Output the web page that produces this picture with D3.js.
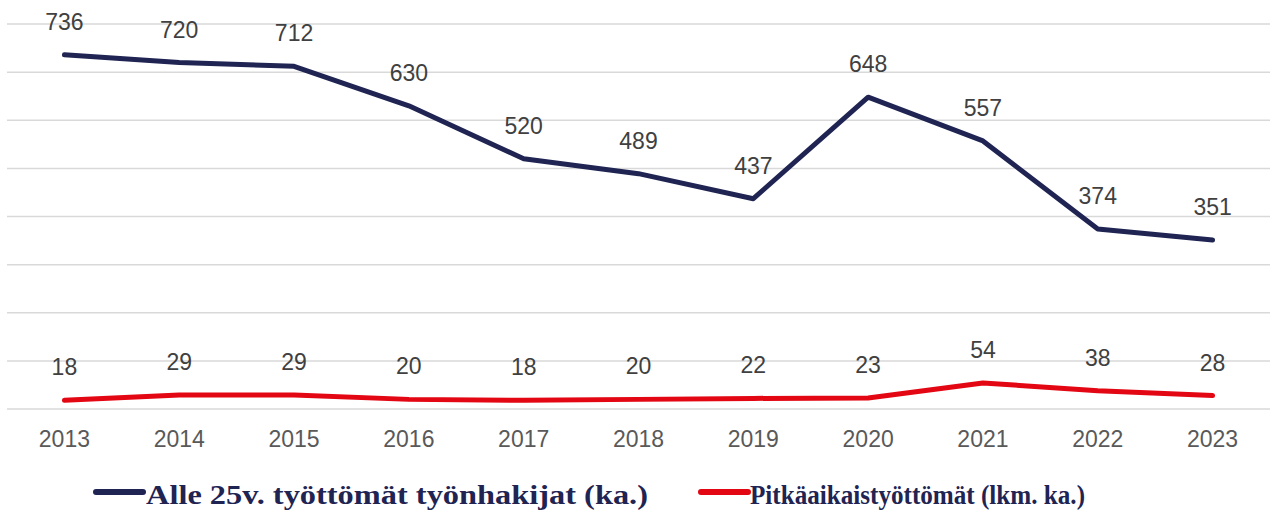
<!DOCTYPE html>
<meta charset="utf-8">
<style>
body { margin: 0; background: #fff; }
</style>
<svg width="1274" height="515"></svg>
<script src="https://cdn.jsdelivr.net/npm/d3@7"></script>
<script>
var years = ['2013','2014','2015','2016','2017','2018','2019','2020','2021','2022','2023']
var youth = [736, 720, 712, 630, 520, 489, 437, 648, 557, 374, 351]
var longTerm = [18, 29, 29, 20, 18, 20, 22, 23, 54, 38, 28]
var yTicks = [0, 100, 200, 300, 400, 500, 600, 700, 800]
var seriesNames = ['Alle 25v. työttömät työnhakijat (ka.)', 'Pitkäaikaistyöttömät (lkm. ka.)']

var navy = '#1f2452'
var red = '#e30613'

var svg = d3.select('svg')

var x = d3.scalePoint().domain(years).range([7, 1270]).padding(0.5)
var y = d3.scaleLinear().domain([0, 800]).range([409, 24])

// gridlines
svg.append('g').selectAll('line')
  .data(yTicks)
  .enter().append('line')
  .attr('x1', 7).attr('x2', 1270)
  .attr('y1', function (d) { return y(d) })
  .attr('y2', function (d) { return y(d) })
  .attr('stroke', '#d9d9d9')
  .attr('stroke-width', 1.5)

// x axis labels
svg.append('g').selectAll('text')
  .data(years)
  .enter().append('text')
  .attr('x', function (d) { return x(d) })
  .attr('y', 447)
  .attr('text-anchor', 'middle')
  .attr('font-family', 'Liberation Sans, Arial, sans-serif')
  .attr('font-size', 23)
  .attr('fill', '#595959')
  .text(function (d) { return d })

var line = d3.line()
  .x(function (d, i) { return x(years[i]) })
  .y(function (d) { return y(d) })

function drawSeries(values, color) {
  svg.append('path')
    .datum(values)
    .attr('d', line)
    .attr('fill', 'none')
    .attr('stroke', color)
    .attr('stroke-width', 5)
    .attr('stroke-linejoin', 'round')
    .attr('stroke-linecap', 'round')

  svg.append('g').selectAll('text')
    .data(values)
    .enter().append('text')
    .attr('x', function (d, i) { return x(years[i]) })
    .attr('y', function (d) { return y(d) - 25 })
    .attr('text-anchor', 'middle')
    .attr('font-family', 'Liberation Sans, Arial, sans-serif')
    .attr('font-size', 23)
    .attr('fill', '#404040')
    .text(function (d) { return d })
}

drawSeries(youth, navy)
drawSeries(longTerm, red)

// legend
var legend = [
  { name: seriesNames[0], color: navy, x1: 96, x2: 143, tx: 146, w: 502 },
  { name: seriesNames[1], color: red, x1: 701, x2: 748, tx: 750, w: 335 }
]
var lg = svg.append('g')
legend.forEach(function (l) {
  lg.append('line')
    .attr('x1', l.x1).attr('x2', l.x2)
    .attr('y1', 492).attr('y2', 492)
    .attr('stroke', l.color)
    .attr('stroke-width', 6)
    .attr('stroke-linecap', 'round')
  lg.append('text')
    .attr('x', l.tx)
    .attr('y', 504)
    .attr('font-family', 'Liberation Serif, Times New Roman, serif')
    .attr('font-weight', 'bold')
    .attr('font-size', 28)
    .attr('fill', navy)
    .attr('textLength', l.w)
    .attr('lengthAdjust', 'spacingAndGlyphs')
    .text(l.name)
})
</script>
